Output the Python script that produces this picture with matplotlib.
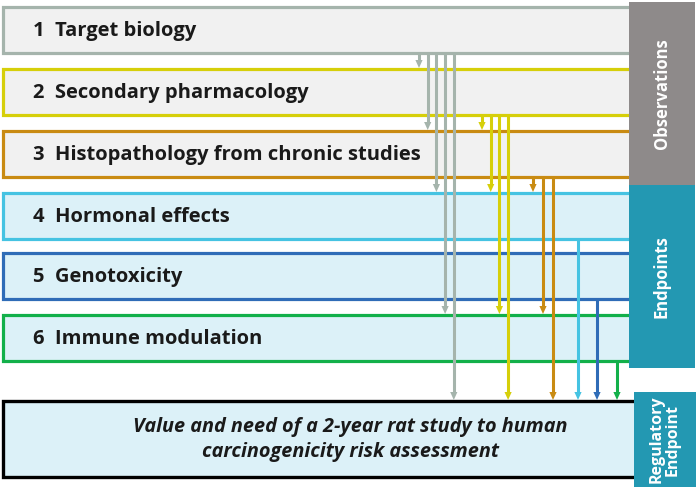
import matplotlib
matplotlib.use("Agg")
import matplotlib.pyplot as plt
from matplotlib.patches import Rectangle, Polygon

# ---- data ----
box_labels = ["1  Target biology", "2  Secondary pharmacology",
              "3  Histopathology from chronic studies", "4  Hormonal effects",
              "5  Genotoxicity", "6  Immune modulation"]
box_colors = ["#a5b4ac", "#d6cf0a", "#c98b12", "#45c3e2", "#2f6cb7", "#12b04a"]
box_fills = ["#f1f1f1", "#f1f1f1", "#f1f1f1", "#dcf1f8", "#dcf1f8", "#dcf1f8"]
# connections: source box -> list of targets (6 = regulatory endpoint box)
links = {0: [1, 2, 3, 5, 6], 1: [2, 3, 5, 6], 2: [3, 5, 6], 3: [6], 4: [6], 5: [6]}
final_text = "Value and need of a 2-year rat study to human\ncarcinogenicity risk assessment"
panel_labels = ["Observations", "Endpoints", "Regulatory\nEndpoint"]
panel_colors = ["#8e8a8a", "#2398b2", "#2398b2"]

# ---- layout (pixels) ----
W, H = 699, 494
fig = plt.figure(figsize=(W / 100, H / 100), dpi=100)
ax = fig.add_axes([0, 0, 1, 1])
ax.set_xlim(0, W)
ax.set_ylim(H, 0)
ax.axis("off")

box_tops = [7, 69, 131, 193, 253, 315]
box_h = 46
x_left, x_right = 3, 629
lw = 2.3

for i, (lab, c, f) in enumerate(zip(box_labels, box_colors, box_fills)):
    t = box_tops[i]
    b = t + box_h
    ax.add_patch(Rectangle((x_left, t), x_right - x_left, box_h, facecolor=f,
                           edgecolor="none", zorder=1))
    ax.plot([x_right, x_left, x_left, x_right], [t, t, b, b], color=c, lw=lw,
            solid_joinstyle="miter", zorder=2)
    ax.text(33, t + box_h / 2 + 1, lab, fontsize=14.5, fontweight="bold",
            family=["Open Sans", "DejaVu Sans"], color="#1a1a1a",
            va="center", ha="left", zorder=3)

# final box
fb_t, fb_b, fb_r = 401, 477, 636
ax.add_patch(Rectangle((x_left, fb_t), fb_r - x_left, fb_b - fb_t,
                       facecolor="#dcf1f8", edgecolor="black", lw=2.4, zorder=2))
ax.text(350, (fb_t + fb_b) / 2 + 0.5, final_text, fontsize=14.3, style="italic",
        fontweight="bold", family=["Open Sans", "DejaVu Sans"],
        color="#1a1a1a", ha="center", va="center", linespacing=1.3,
        zorder=3)

# side panels
panels = [(629, 2, 66, 183), (629, 185, 66, 183), (634, 392, 62, 95)]
for (px, py, pw, ph), lab, c in zip(panels, panel_labels, panel_colors):
    ax.add_patch(Rectangle((px, py), pw, ph, facecolor=c, edgecolor="none", zorder=4))
    ax.text(px + pw / 2, py + ph / 2, lab, rotation=90, color="white",
            fontsize=12 if "\n" not in lab else 11.5, fontweight="bold",
            family=["Open Sans", "DejaVu Sans"],
            ha="center", va="center", linespacing=1.0, zorder=5)

# arrows
arrow_x0 = {0: 419, 1: 482, 2: 533, 3: 578, 4: 597, 5: 617}
spacing = {0: 8.7, 1: 8.7, 2: 10, 3: 0, 4: 0, 5: 0}
hl, hw = 8, 3.6
for s, targets in links.items():
    y0 = box_tops[s] + box_h
    for k, tgt in enumerate(targets):
        x = arrow_x0[s] + k * spacing[s]
        y1 = fb_t - 1 if tgt == 6 else box_tops[tgt] - 1
        ax.plot([x, x], [y0, y1 - hl + 1], color=box_colors[s], lw=2.2,
                solid_capstyle="butt", zorder=6)
        ax.add_patch(Polygon([(x - hw, y1 - hl), (x + hw, y1 - hl), (x, y1)],
                             closed=True, facecolor=box_colors[s],
                             edgecolor="none", zorder=6))

fig.savefig("out.png", dpi=100)
